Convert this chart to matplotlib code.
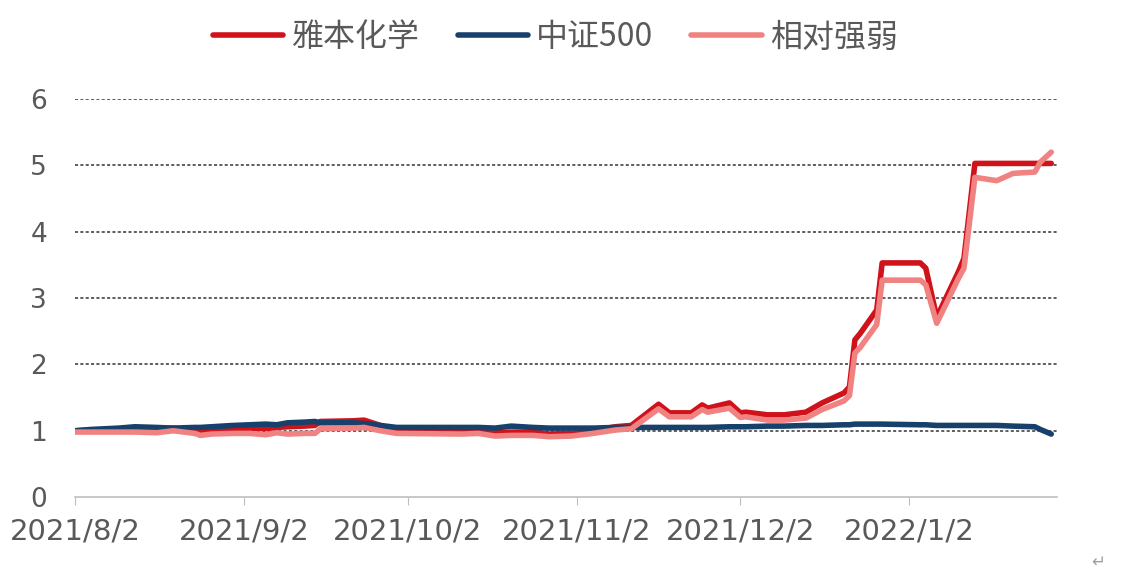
import matplotlib
matplotlib.use("Agg")
import matplotlib.pyplot as plt
import numpy as np

dates = ["2021-08-02", "2021-08-05", "2021-08-10", "2021-08-13", "2021-08-17", "2021-08-20",
         "2021-08-24", "2021-08-25", "2021-08-27", "2021-08-31", "2021-09-03", "2021-09-06",
         "2021-09-08", "2021-09-10", "2021-09-13", "2021-09-15", "2021-09-16", "2021-09-22",
         "2021-09-24", "2021-09-27", "2021-09-30", "2021-10-12", "2021-10-15", "2021-10-18",
         "2021-10-21", "2021-10-25", "2021-10-28", "2021-11-01", "2021-11-05", "2021-11-09",
         "2021-11-12", "2021-11-17", "2021-11-19", "2021-11-23", "2021-11-25", "2021-11-26",
         "2021-11-30", "2021-12-02", "2021-12-03", "2021-12-07", "2021-12-10", "2021-12-14",
         "2021-12-17", "2021-12-21", "2021-12-22", "2021-12-23", "2021-12-24", "2021-12-27",
         "2021-12-28", "2022-01-04", "2022-01-05", "2022-01-07", "2022-01-11", "2022-01-12",
         "2022-01-14", "2022-01-18", "2022-01-21", "2022-01-25", "2022-01-26", "2022-01-28"]

yaben = [1.00, 1.01, 1.02, 1.03, 1.02, 1.04, 1.01, 0.97, 1.00, 1.03, 1.04, 1.03,
         1.05, 1.06, 1.07, 1.08, 1.14, 1.15, 1.16, 1.08, 1.01, 0.99, 1.00, 0.97,
         0.98, 0.98, 0.95, 0.96, 1.00, 1.06, 1.08, 1.40, 1.27, 1.27, 1.39, 1.34,
         1.42, 1.27, 1.28, 1.24, 1.24, 1.28, 1.42, 1.57, 1.66, 2.37, 2.47, 2.82,
         3.53, 3.53, 3.45, 2.71, 3.40, 3.60, 5.03, 5.03, 5.03, 5.03, 5.03, 5.03]

zz500 = [1.00, 1.02, 1.04, 1.06, 1.05, 1.04, 1.05, 1.05, 1.06, 1.08, 1.09, 1.10,
         1.09, 1.12, 1.13, 1.14, 1.12, 1.12, 1.11, 1.08, 1.05, 1.05, 1.05, 1.04,
         1.07, 1.05, 1.04, 1.04, 1.04, 1.05, 1.05, 1.05, 1.05, 1.05, 1.05, 1.05,
         1.06, 1.06, 1.06, 1.07, 1.07, 1.08, 1.08, 1.09, 1.09, 1.10, 1.10, 1.10,
         1.10, 1.09, 1.09, 1.08, 1.08, 1.08, 1.08, 1.08, 1.07, 1.06, 1.02, 0.95]

relative = [0.98, 0.98, 0.98, 0.98, 0.97, 1.00, 0.96, 0.93, 0.95, 0.96, 0.96, 0.94,
            0.97, 0.95, 0.96, 0.96, 1.03, 1.04, 1.05, 1.00, 0.96, 0.95, 0.96, 0.92,
            0.93, 0.93, 0.91, 0.92, 0.96, 1.01, 1.03, 1.33, 1.21, 1.21, 1.32, 1.28,
            1.34, 1.20, 1.21, 1.16, 1.16, 1.19, 1.32, 1.45, 1.53, 2.17, 2.26, 2.60,
            3.27, 3.27, 3.20, 2.62, 3.30, 3.45, 4.82, 4.77, 4.88, 4.90, 5.05, 5.20]

legend_names = ["雅本化学", "中证500", "相对强弱"]
tick_dates = ["2021-08-02", "2021-09-02", "2021-10-02", "2021-11-02", "2021-12-02", "2022-01-02"]
tick_labels = ["2021/8/2", "2021/9/2", "2021/10/2", "2021/11/2", "2021/12/2", "2022/1/2"]

x = np.array(dates, dtype="datetime64[D]")

fig = plt.figure(figsize=(11.22, 5.76), dpi=100)
ax = fig.add_axes([0.0668, 0.137, 0.875, 0.691])

ax.plot(x, yaben, color="#D0121B", lw=4, label=legend_names[0], solid_capstyle="round")
ax.plot(x, zz500, color="#17416B", lw=4, label=legend_names[1], solid_capstyle="round")
ax.plot(x, relative, color="#F08282", lw=4, label=legend_names[2], solid_capstyle="round")

ax.set_ylim(0, 6)
ax.set_xlim(np.datetime64("2021-08-02"), np.datetime64("2022-01-29"))
ax.set_yticks(range(0, 7))
# dotted grid lines like the excel chart
for v in range(1, 7):
    ax.axhline(v, color="#333333", lw=1.1, ls=(0, (2, 1.5)), zorder=0)

ax.set_xticks(np.array(tick_dates, dtype="datetime64[D]"))
ax.set_xticklabels(tick_labels)

for s in ["top", "right", "left"]:
    ax.spines[s].set_visible(False)
ax.spines["bottom"].set_color("#BFBFBF")
ax.spines["bottom"].set_linewidth(1.2)
ax.tick_params(axis="y", length=0, pad=20, labelsize=19, labelcolor="#595959")
ax.tick_params(axis="x", length=6, color="#BFBFBF", pad=9, labelsize=21, labelcolor="#595959")

fig.legend(loc="center", bbox_to_anchor=(0.495, 0.935), ncol=3, frameon=False,
           prop={"family": ["Noto Sans CJK SC", "DejaVu Sans"], "size": 23},
           handlelength=2.2, handletextpad=0.25, columnspacing=1.2, labelcolor="#595959")

fig.text(0.985, 0.01, "↵", color="#A0A0A0", fontsize=12, ha="right", va="bottom")

fig.savefig("out.png", dpi=100)
